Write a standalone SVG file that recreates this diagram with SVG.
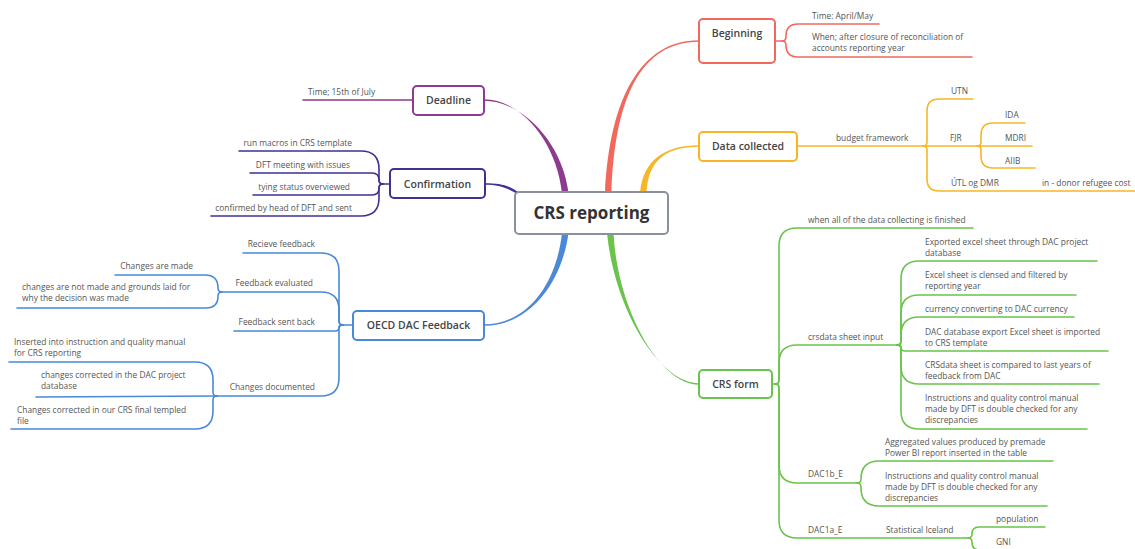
<svg xmlns="http://www.w3.org/2000/svg" width="1135" height="549" viewBox="0 0 1135 549">
<style>
  text { font-family: "Open Sans", "Noto Sans", "Liberation Sans", sans-serif; fill: #555; }
  .t { font-size: 8.4px; }
  .e { text-anchor: end; }
  .nl { font-size: 10.5px; font-weight: 600; fill: #444; text-anchor: middle; }
  .box { fill: #fff; stroke-width: 2; }
  .br { fill: none; stroke-width: 1.6; stroke-linecap: round; }
  .red { stroke: #f0695c; }
  .org { stroke: #f6b626; }
  .pur { stroke: #8d3b8e; }
  .ind { stroke: #3f3292; }
  .blu { stroke: #4a89d8; }
  .grn { stroke: #6ac44b; }
</style>

<g id="connectors">
  <!-- main tapered connectors -->
  <path d="M699,40.3 C640,40.3 609.5,100 605,193 L611.5,193 C614.5,100 640,41.7 699,41.7 Z" fill="#f0695c"/>
  <path d="M699,145.3 C665,145.3 643,160 640,193 L646.5,193 C648,161 665,146.7 699,146.7 Z" fill="#f6b626"/>
  <path d="M484,99.3 C520,99.3 556,140 562,193 L568.5,193 C562,140 520,100.7 484,100.7 Z" fill="#8d3b8e"/>
  <path d="M485,183.3 C500,183.3 508,185 518,192 L520,196 C508,188 500,184.7 485,184.7 Z" fill="#3f3292"/>
  <path d="M484,324.3 C530,324.3 557,280 562,233 L568.5,233 C562,282 530,325.7 484,325.7 Z" fill="#4a89d8"/>
  <path d="M699,383.3 C660,383.3 614.5,310 607,233 L613.5,233 C617.5,310 660,384.7 699,384.7 Z" fill="#6ac44b"/>

  <!-- Beginning -->
  <path class="br red" d="M775,41 L782,41 Q786,41 786,37 L786,36 Q786,24 798,24 L879,24"/>
  <path class="br red" d="M782,41 Q786,41 786,45 Q786,57 798,57 L972,57"/>

  <!-- Data collected -->
  <path class="br org" d="M797,146 L977,146 L1032,146"/>
  <path class="br org" d="M923,146 Q927,146 927,142 L927,111 Q927,99 939,99 L973,99"/>
  <path class="br org" d="M923,146 Q927,146 927,150 L927,179 Q927,191 939,191 L1135,191"/>
  <path class="br org" d="M977,146 Q981,146 981,142 L981,135 Q981,123 993,123 L1025,123"/>
  <path class="br org" d="M977,146 Q981,146 981,150 L981,156 Q981,168 993,168 L1035,168"/>

  <!-- Deadline -->
  <path class="br pur" d="M413,100 L303,100"/>

  <!-- Confirmation -->
  <path class="br ind" d="M390,184 L383,184 Q379,184 379,180 L379,169 Q379,151 361,151 L239,151"/>
  <path class="br ind" d="M383,184 Q379,184 379,180 Q379,173 372,173 L250,173"/>
  <path class="br ind" d="M383,184 Q379,184 379,188 Q379,195 372,195 L253,195"/>
  <path class="br ind" d="M383,184 Q379,184 379,188 L379,198 Q379,216 361,216 L211,216"/>

  <!-- OECD DAC Feedback -->
  <path class="br blu" d="M353,325 L343,325 Q339,325 339,321 L339,271 Q339,253 321,253 L243,253"/>
  <path class="br blu" d="M343,325 Q339,325 339,321 L339,310 Q339,292 321,292 L222,292"/>
  <path class="br blu" d="M343,325 Q339,325 339,327 Q339,331 335,331 L234,331"/>
  <path class="br blu" d="M343,325 Q339,325 339,329 L339,378 Q339,396 321,396 L217,396"/>
  <path class="br blu" d="M222,292 Q218,292 218,288 Q218,275 205,275 L115,275"/>
  <path class="br blu" d="M222,292 Q218,292 218,296 Q218,308 206,308 L17,308"/>
  <path class="br blu" d="M217,396 Q213,396 213,392 L213,380 Q213,362 195,362 L9,362"/>
  <path class="br blu" d="M217,396 L36,397"/>
  <path class="br blu" d="M217,396 Q213,396 213,400 L213,411 Q213,429 195,429 L11,429"/>

  <!-- CRS form -->
  <path class="br grn" d="M772,384 L775,384 Q779,384 779,380 L779,246 Q779,228 797,228 L973,228"/>
  <path class="br grn" d="M775,384 Q779,384 779,380 L779,363 Q779,345 797,345 L897,345"/>
  <path class="br grn" d="M775,384 Q779,384 779,388 L779,465 Q779,483 797,483 L857,483"/>
  <path class="br grn" d="M775,384 Q779,384 779,388 L779,520 Q779,538 797,538 L968,538"/>
  <path class="br grn" d="M897,345 Q901,345 901,341 L901,279 Q901,261 919,261 L1097,261"/>
  <path class="br grn" d="M897,345 Q901,345 901,341 L901,313 Q901,295 919,295 L1076,295"/>
  <path class="br grn" d="M897,345 Q901,345 901,341 L901,335 Q901,317 919,317 L1074,317"/>
  <path class="br grn" d="M897,345 Q901,345 901,347 Q901,351 905,351 L1108,351"/>
  <path class="br grn" d="M897,345 Q901,345 901,349 L901,366 Q901,384 919,384 L1099,384"/>
  <path class="br grn" d="M897,345 Q901,345 901,349 L901,411 Q901,429 919,429 L1087,429"/>
  <path class="br grn" d="M857,483 Q861,483 861,479 Q861,461 879,461 L1053,461"/>
  <path class="br grn" d="M857,483 Q861,483 861,487 L861,488 Q861,506 879,506 L1047,506"/>
  <path class="br grn" d="M968,538 Q972,538 972,534 Q972,527 979,527 L1045,527"/>
  <path class="br grn" d="M968,538 Q972,538 972,542 Q972,550 980,550 L1045,550"/>
</g>

<g id="root">
  <rect class="box" x="515" y="192" width="153" height="42" rx="4" stroke="#8a90a0"/>
  <text x="591.5" y="219" style="font-size:17px;font-weight:700;fill:#333;text-anchor:middle">CRS reporting</text>
</g>

<g id="beginning">
  <rect class="box red" x="699" y="19" width="76" height="44" rx="4"/>
  <text class="nl" x="737" y="37">Beginning</text>
  <text class="t" x="812" y="19">Time: April/May</text>
  <text class="t" x="812" y="40">When; after closure of reconciliation of</text>
  <text class="t" x="812" y="51">accounts reporting year</text>
</g>

<g id="data-collected">
  <rect class="box org" x="699" y="132" width="98" height="29" rx="4"/>
  <text class="nl" x="748" y="150">Data collected</text>
  <text class="t" x="836" y="141">budget framework</text>
  <text class="t" x="951" y="94">UTN</text>
  <text class="t" x="950" y="141">FJR</text>
  <text class="t" x="1005" y="118">IDA</text>
  <text class="t" x="1005" y="141">MDRI</text>
  <text class="t" x="1005" y="164">AIIB</text>
  <text class="t" x="951" y="186">ÚTL og DMR</text>
  <text class="t" x="1042" y="186">in - donor refugee cost</text>
</g>

<g id="deadline">
  <rect class="box pur" x="413" y="86" width="71" height="29" rx="4"/>
  <text class="nl" x="448.5" y="104">Deadline</text>
  <text class="t" x="308" y="95">Time; 15th of July</text>
</g>

<g id="confirmation">
  <rect class="box ind" x="390" y="169" width="95" height="29" rx="4"/>
  <text class="nl" x="437.5" y="188">Confirmation</text>
  <text class="t e" x="352" y="146">run macros in CRS template</text>
  <text class="t e" x="350" y="168">DFT meeting with issues</text>
  <text class="t e" x="350" y="190">tying status overviewed</text>
  <text class="t e" x="352" y="211">confirmed by head of DFT and sent</text>
</g>

<g id="oecd-dac-feedback">
  <rect class="box blu" x="353" y="311" width="131" height="29" rx="4"/>
  <text class="nl" x="418.5" y="329">OECD DAC Feedback</text>
  <text class="t e" x="315" y="247">Recieve feedback</text>
  <text class="t e" x="313" y="286">Feedback evaluated</text>
  <text class="t e" x="193" y="269">Changes are made</text>
  <text class="t" x="22" y="290">changes are not made and grounds laid for</text>
  <text class="t" x="22" y="301">why the decision was made</text>
  <text class="t e" x="315" y="325">Feedback sent back</text>
  <text class="t e" x="315" y="390">Changes documented</text>
  <text class="t" x="14" y="345">Inserted into instruction and quality manual</text>
  <text class="t" x="14" y="356">for CRS reporting</text>
  <text class="t" x="41" y="378">changes corrected in the DAC project</text>
  <text class="t" x="41" y="389">database</text>
  <text class="t" x="17" y="413">Changes corrected in our CRS final templed</text>
  <text class="t" x="17" y="424">file</text>
</g>

<g id="crs-form">
  <rect class="box grn" x="699" y="370" width="73" height="28" rx="4"/>
  <text class="nl" x="735.5" y="388">CRS form</text>
  <text class="t" x="808" y="223">when all of the data collecting is finished</text>
  <text class="t" x="808" y="340">crsdata sheet input</text>
  <text class="t" x="925" y="245">Exported excel sheet through DAC project</text>
  <text class="t" x="925" y="256">database</text>
  <text class="t" x="925" y="278">Excel sheet is clensed and filtered by</text>
  <text class="t" x="925" y="289">reporting year</text>
  <text class="t" x="925" y="312">currency converting to DAC currency</text>
  <text class="t" x="925" y="335">DAC database export Excel sheet is imported</text>
  <text class="t" x="925" y="346">to CRS template</text>
  <text class="t" x="925" y="368">CRSdata sheet is compared to last years of</text>
  <text class="t" x="925" y="379">feedback from DAC</text>
  <text class="t" x="925" y="401">Instructions and quality control manual</text>
  <text class="t" x="925" y="412">made by DFT is double checked for any</text>
  <text class="t" x="925" y="423">discrepancies</text>
  <text class="t" x="808" y="477">DAC1b_E</text>
  <text class="t" x="885" y="445">Aggregated values produced by premade</text>
  <text class="t" x="885" y="456">Power BI report inserted in the table</text>
  <text class="t" x="885" y="479">Instructions and quality control manual</text>
  <text class="t" x="885" y="490">made by DFT is double checked for any</text>
  <text class="t" x="885" y="501">discrepancies</text>
  <text class="t" x="808" y="533">DAC1a_E</text>
  <text class="t" x="886" y="533">Statistical Iceland</text>
  <text class="t" x="996" y="522">population</text>
  <text class="t" x="996" y="545">GNI</text>
</g>
</svg>
